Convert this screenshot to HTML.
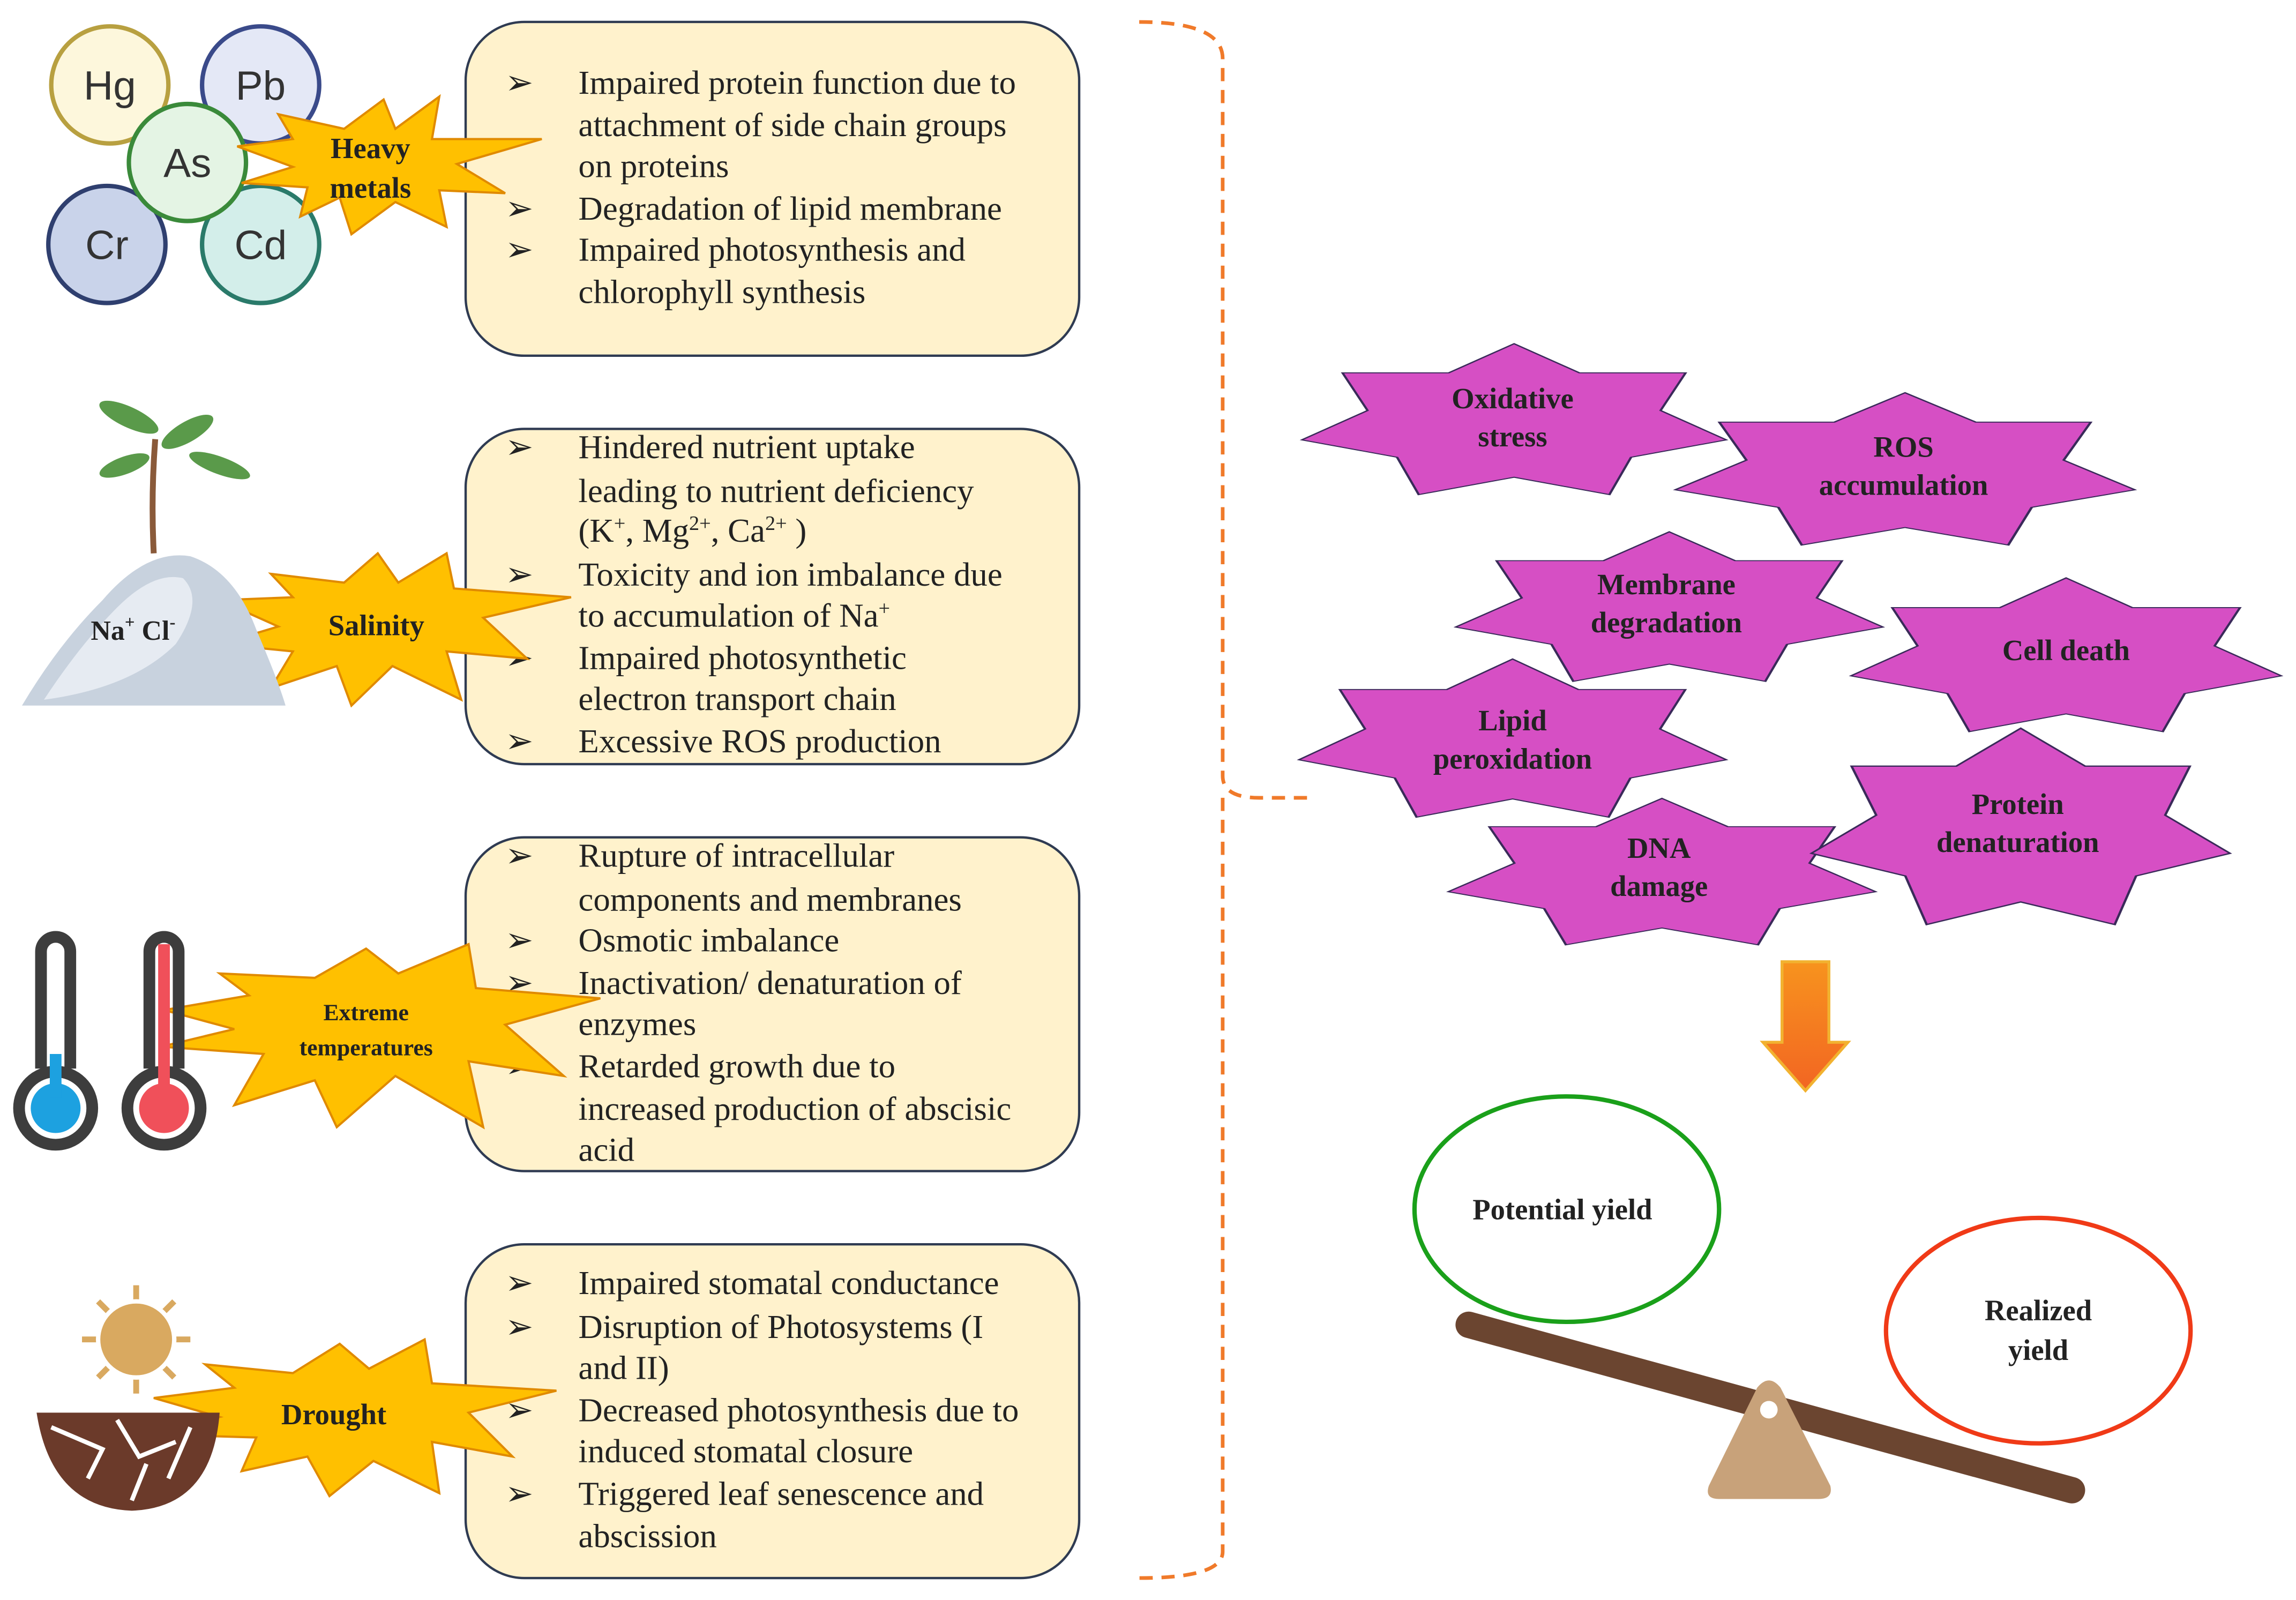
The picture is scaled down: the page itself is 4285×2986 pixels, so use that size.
<!DOCTYPE html>
<html><head><meta charset="utf-8"><style>
html,body{margin:0;padding:0;background:#fff;}
svg{display:block;}
.bt{font-family:"Liberation Serif",serif;font-size:23px;fill:#222;}
.st{font-family:"Liberation Serif",serif;font-size:20px;font-weight:bold;fill:#222;text-anchor:middle;}
.el{font-family:"Liberation Sans",sans-serif;font-size:28px;fill:#333;text-anchor:middle;}
</style></head><body>
<svg width="4285" height="2986" viewBox="0 0 1568 1093" preserveAspectRatio="none" xmlns="http://www.w3.org/2000/svg">
<defs>
<linearGradient id="ag" x1="0" y1="0" x2="0" y2="1"><stop offset="0" stop-color="#f7931e"/><stop offset="1" stop-color="#f26522"/></linearGradient>
<polygon id="s7" points="0,-1 0.308,-0.633 0.808,-0.633 0.69,-0.158 1,0.212 0.551,0.431 0.449,0.902 0,0.683 -0.449,0.902 -0.551,0.431 -1,0.212 -0.69,-0.158 -0.808,-0.633 -0.308,-0.633"/>
</defs>
<!-- boxes -->
<g fill="#fff2cc" stroke="#2f3b52" stroke-width="1.6">
<rect x="318" y="15" width="419" height="228" rx="40"/>
<rect x="318" y="293" width="419" height="229" rx="40"/>
<rect x="318" y="572" width="419" height="228" rx="40"/>
<rect x="318" y="850" width="419" height="228" rx="40"/>
</g>
<g class="bt">
<text x="345" y="64">➢</text><text x="395" y="64">Impaired protein function due to</text>
<text x="395" y="93">attachment of side chain groups</text>
<text x="395" y="121">on proteins</text>
<text x="345" y="150">➢</text><text x="395" y="150">Degradation of lipid membrane</text>
<text x="345" y="178">➢</text><text x="395" y="178">Impaired photosynthesis and</text>
<text x="395" y="207">chlorophyll synthesis</text>

<text x="345" y="313">➢</text><text x="395" y="313">Hindered nutrient uptake</text>
<text x="395" y="343">leading to nutrient deficiency</text>
<text x="395" y="370">(K<tspan font-size="14" dy="-8">+</tspan><tspan dy="8">, Mg</tspan><tspan font-size="14" dy="-8">2+</tspan><tspan dy="8">, Ca</tspan><tspan font-size="14" dy="-8">2+</tspan><tspan dy="8"> )</tspan></text>
<text x="345" y="400">➢</text><text x="395" y="400">Toxicity and ion imbalance due</text>
<text x="395" y="428">to accumulation of Na<tspan font-size="14" dy="-8">+</tspan></text>
<text x="345" y="457">➢</text><text x="395" y="457">Impaired photosynthetic</text>
<text x="395" y="485">electron transport chain</text>
<text x="345" y="514">➢</text><text x="395" y="514">Excessive ROS production</text>

<text x="345" y="592">➢</text><text x="395" y="592">Rupture of intracellular</text>
<text x="395" y="622">components and membranes</text>
<text x="345" y="650">➢</text><text x="395" y="650">Osmotic imbalance</text>
<text x="345" y="679">➢</text><text x="395" y="679">Inactivation/ denaturation of</text>
<text x="395" y="707">enzymes</text>
<text x="345" y="736">➢</text><text x="395" y="736">Retarded growth due to</text>
<text x="395" y="765">increased production of abscisic</text>
<text x="395" y="793">acid</text>

<text x="345" y="884">➢</text><text x="395" y="884">Impaired stomatal conductance</text>
<text x="345" y="914">➢</text><text x="395" y="914">Disruption of Photosystems (I</text>
<text x="395" y="942">and II)</text>
<text x="345" y="971">➢</text><text x="395" y="971">Decreased photosynthesis due to</text>
<text x="395" y="999">induced stomatal closure</text>
<text x="345" y="1028">➢</text><text x="395" y="1028">Triggered leaf senescence and</text>
<text x="395" y="1057">abscission</text>
</g>
<!-- bracket -->
<path d="M778 15 Q835 15 835 40 L835 530 Q835 545 860 545 L895 545 M835 545 Q835 560 835 575 L835 1060 Q835 1078 778 1078" fill="none" stroke="#f07a2a" stroke-width="2.5" stroke-dasharray="9,6"/>
<!-- metal circles -->
<g stroke-width="3">
<circle cx="75" cy="58" r="40" fill="#fdf7dc" stroke="#b8a040"/>
<circle cx="178" cy="58" r="40" fill="#e4e8f6" stroke="#3a4a8a"/>
<circle cx="73" cy="167" r="40" fill="#c9d3ea" stroke="#2f3f6f"/>
<circle cx="178" cy="167" r="40" fill="#d3eeea" stroke="#2a7a6a"/>
<circle cx="128" cy="111" r="40" fill="#e4f4e4" stroke="#3a8a3a"/>
</g>
<g class="el"><text x="75" y="68">Hg</text><text x="178" y="68">Pb</text><text x="73" y="177">Cr</text><text x="178" y="177">Cd</text><text x="128" y="121">As</text></g>
<!-- yellow stars -->
<g fill="#ffc000" stroke="#e08a00" stroke-width="1.5">
<polygon points="162,100 200,95 190,78 235,88 262,68 270,88 300,66 295,95 370,95 312,112 345,132 300,130 305,155 270,138 240,160 232,135 205,148 210,128 165,125 200,114"/>
<polygon points="150,410 200,408 185,392 235,398 258,378 272,398 305,378 310,402 390,408 330,422 360,450 305,445 315,478 268,455 240,482 230,455 185,470 200,445 150,440 190,428"/>
<polygon points="112,690 170,680 150,665 215,668 250,648 272,665 320,645 325,675 410,682 345,700 385,735 320,725 330,770 270,735 230,770 215,738 160,755 180,720 110,715 160,703"/>
<polygon points="105,955 160,948 140,932 200,938 232,918 252,935 290,915 295,945 380,950 320,965 350,995 295,985 300,1020 255,998 225,1022 210,995 165,1005 175,982 108,980 150,968"/>
</g>
<g class="st">
<text x="253" y="108">Heavy</text><text x="253" y="135">metals</text>
<text x="257" y="434">Salinity</text>
<text x="250" y="697" font-size="16">Extreme</text><text x="250" y="721" font-size="16">temperatures</text>
<text x="228" y="973">Drought</text>
</g>
<!-- salt pile + plant -->
<path d="M15 482 Q40 440 70 410 Q100 375 130 380 Q160 390 175 430 Q190 465 195 482 Z" fill="#c8d2de"/>
<path d="M30 478 Q55 440 80 415 Q105 390 125 395 Q140 410 120 440 Q90 470 30 478Z" fill="#e6ebf2"/>
<path d="M105 378 Q103 340 106 300" stroke="#8a5a3a" stroke-width="4" fill="none"/>
<g fill="#5a9a4a"><ellipse cx="88" cy="285" rx="22" ry="7" transform="rotate(25 88 285)"/><ellipse cx="128" cy="295" rx="20" ry="7" transform="rotate(-30 128 295)"/><ellipse cx="150" cy="318" rx="22" ry="6" transform="rotate(20 150 318)"/><ellipse cx="85" cy="318" rx="18" ry="6" transform="rotate(-20 85 318)"/></g>
<text x="62" y="437" font-family="Liberation Serif,serif" font-weight="bold" font-size="19" fill="#222">Na<tspan font-size="12" dy="-8">+</tspan><tspan dy="8"> Cl</tspan><tspan font-size="12" dy="-8">-</tspan></text>
<!-- thermometers -->
<g fill="none" stroke="#3d3d3d" stroke-width="8">
<path d="M28 730 L28 650 A10 10 0 0 1 48 650 L48 730"/>
<circle cx="38" cy="757" r="25"/>
<path d="M102 730 L102 650 A10 10 0 0 1 122 650 L122 730"/>
<circle cx="112" cy="757" r="25"/>
</g>
<circle cx="38" cy="757" r="17" fill="#1da1e0"/><rect x="34" y="720" width="8" height="30" fill="#1da1e0"/>
<circle cx="112" cy="757" r="17" fill="#f0505a"/><rect x="108" y="645" width="8" height="105" fill="#f0505a"/>
<!-- sun + soil -->
<g stroke="#d9a960" stroke-width="4"><line x1="93" y1="878" x2="93" y2="952"/><line x1="56" y1="915" x2="130" y2="915"/><line x1="67" y1="889" x2="119" y2="941"/><line x1="119" y1="889" x2="67" y2="941"/></g>
<circle cx="93" cy="915" r="26" fill="#d9a960" stroke="#fff" stroke-width="3"/>
<path d="M25 965 L150 965 Q145 1030 90 1032 Q35 1030 25 965Z" fill="#6b3a2a"/>
<path d="M35 975 L70 990 L60 1010 M80 970 L95 995 L120 985 M100 1000 L90 1025 M130 975 L115 1010" stroke="#fff" stroke-width="3" fill="none"/>
<!-- magenta stars -->
<g fill="#d64fc4" stroke="#3a2a5a" stroke-width="0.012">
<use href="#s7" transform="translate(1034,289) scale(145,54.2)"/>
<use href="#s7" transform="translate(1301,323) scale(157,54.7)"/>
<use href="#s7" transform="translate(1140,417) scale(146,53.7)"/>
<use href="#s7" transform="translate(1411,450) scale(147,55.2)"/>
<use href="#s7" transform="translate(1033,507) scale(146,56.8)"/>
<use href="#s7" transform="translate(1135,598) scale(146,52.6)"/>
<use href="#s7" transform="translate(1380,568) scale(143,70.5)"/>
</g>
<g class="st">
<text x="1033" y="279">Oxidative</text><text x="1033" y="305">stress</text>
<text x="1300" y="312">ROS</text><text x="1300" y="338">accumulation</text>
<text x="1138" y="406">Membrane</text><text x="1138" y="432">degradation</text>
<text x="1411" y="451">Cell death</text>
<text x="1033" y="499">Lipid</text><text x="1033" y="525">peroxidation</text>
<text x="1133" y="586">DNA</text><text x="1133" y="612">damage</text>
<text x="1378" y="556">Protein</text><text x="1378" y="582">denaturation</text>
</g>
<!-- arrow -->
<polygon points="1217,657 1249,657 1249,712 1262,712 1233,745 1204,712 1217,712" fill="url(#ag)" stroke="#f2b230" stroke-width="2"/>
<!-- seesaw -->
<line x1="1003" y1="905" x2="1415" y2="1018" stroke="#6b4530" stroke-width="18" stroke-linecap="round"/>
<path d="M1200 948 Q1208 938 1216 948 L1250 1015 Q1252 1024 1242 1024 L1174 1024 Q1164 1024 1167 1015 Z" fill="#c8a27a"/>
<circle cx="1208" cy="963" r="6" fill="#fff"/>
<ellipse cx="1070" cy="826" rx="104" ry="77" fill="#fff" stroke="#1aa01a" stroke-width="3"/>
<ellipse cx="1392" cy="909" rx="104" ry="77" fill="#fff" stroke="#f03a17" stroke-width="3"/>
<g class="st" font-size="19">
<text x="1067" y="833">Potential yield</text>
<text x="1392" y="902">Realized</text><text x="1392" y="929">yield</text>
</g>
</svg>
</body></html>
